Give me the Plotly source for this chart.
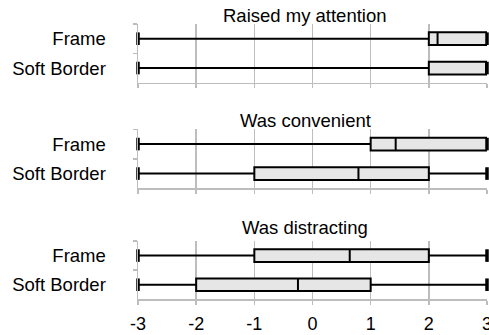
import plotly.graph_objects as go

categories = ["Frame", "Soft Border"]
panel_titles = ["Raised my attention", "Was convenient", "Was distracting"]

# per panel: values for [Frame, Soft Border]
lower = [[-3, -3], [-3, -3], [-3, -3]]
q1 = [[2, 2], [1, -1], [-1, -2]]
median = [[2.15, 3], [1.43, 0.79], [0.64, -0.25]]
q3 = [[3, 3], [3, 2], [2, 1]]
upper = [[3, 3], [3, 3], [3, 3]]

x_ticks = [-3, -2, -1, 0, 1, 2, 3]

W, H = 489, 335
L, R = 138, 1.5
domains_px = [(24, 82.7), (129.3, 188.3), (241, 299.3)]
title_px = [15, 120.5, 227.5]
title_x_px = 305.5

FONT = "Liberation Sans, Arial, Helvetica, sans-serif"
GRAY = "#bdbdbd"

fig = go.Figure()
annotations = []
for i in range(3):
    ax = "" if i == 0 else str(i + 1)
    fig.add_trace(go.Box(
        y=categories,
        q1=q1[i], median=median[i], q3=q3[i],
        lowerfence=lower[i], upperfence=upper[i],
        orientation="h",
        fillcolor="#e6e6e6",
        line=dict(color="black", width=2),
        whiskerwidth=0,
        boxpoints=False,
        hoverinfo="skip",
        showlegend=False,
        xaxis="x" + ax, yaxis="y" + ax,
    ))
    # whisker end caps
    fig.add_trace(go.Scatter(
        x=lower[i] + upper[i], y=categories + categories,
        mode="markers",
        marker=dict(symbol="line-ns", size=9, line=dict(color="black", width=3.5)),
        cliponaxis=False, hoverinfo="skip", showlegend=False,
        xaxis="x" + ax, yaxis="y" + ax,
    ))
    top, bot = domains_px[i]
    dom = [1 - bot / H, 1 - top / H]
    fig.layout["xaxis" + ax] = dict(
        domain=[0, 1], anchor="y" + ax, range=[-3, 3],
        tickvals=x_ticks, ticktext=[str(v) for v in x_ticks],
        showticklabels=(i == 2),
        ticklabeloverflow="allow",
        showgrid=True, gridcolor=GRAY, gridwidth=1.5,
        zeroline=False,
        showline=True, linecolor=GRAY, linewidth=1.5,
        ticks="outside", ticklen=4, tickcolor=GRAY, tickwidth=1.5,
        tickfont=dict(family=FONT, size=18, color="black"),
        ticklabelstandoff=4,
        automargin=False, fixedrange=True,
    )
    fig.layout["yaxis" + ax] = dict(
        domain=dom, anchor="x" + ax, type="category",
        categoryorder="array", categoryarray=categories,
        autorange="reversed",
        showgrid=False, zeroline=False,
        showline=True, linecolor=GRAY, linewidth=1.5,
        ticks="outside", ticklen=4, tickcolor=GRAY, tickwidth=1.5,
        tickson="boundaries",
        tickfont=dict(family=FONT, size=18.5, color="black"),
        ticklabelstandoff=27,
        automargin=False, fixedrange=True,
    )
    annotations.append(dict(
        text=panel_titles[i], xref="paper", yref="paper",
        x=(title_x_px - L) / (W - L - R), y=1 - title_px[i] / H,
        xanchor="center", yanchor="middle", showarrow=False,
        font=dict(family=FONT, size=18.5, color="black"),
    ))

fig.update_layout(
    width=W, height=H,
    margin=dict(l=L, r=R, t=0, b=0, pad=0),
    paper_bgcolor="white", plot_bgcolor="white",
    boxgap=0.38,
    annotations=annotations,
    hovermode=False,
)

fig.write_html(
    "out.html",
    config={"displayModeBar": False, "staticPlot": True},
    post_script="document.body.style.margin='0';document.body.style.overflow='hidden';",
)
